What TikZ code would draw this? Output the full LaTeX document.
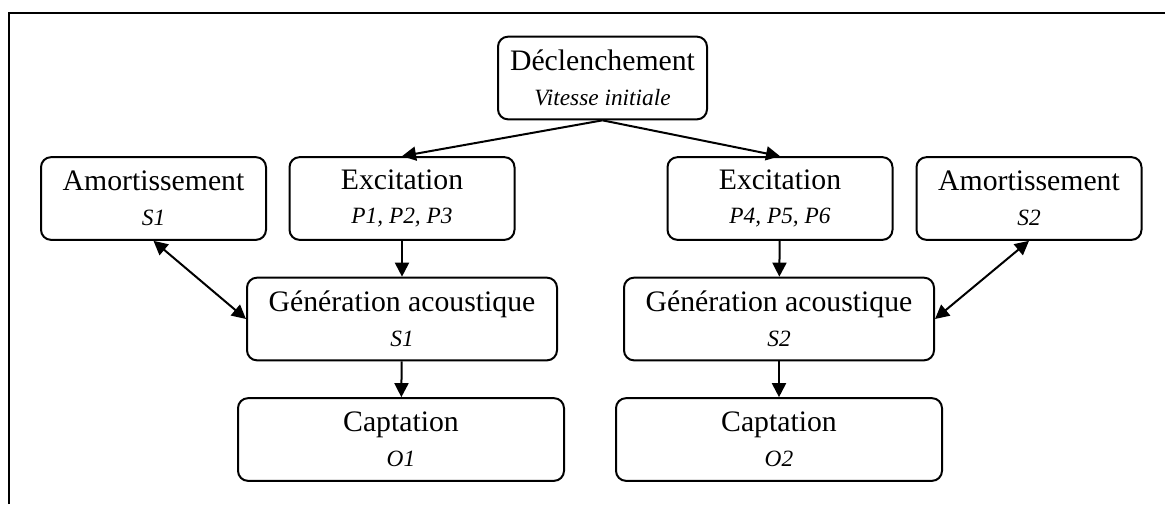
\documentclass[tikz,border=0pt]{standalone}
\usepackage{fontspec}
\setmainfont{Liberation Serif}
\usetikzlibrary{arrows.meta, positioning}

\newcommand{\subtxt}[1]{{\fontsize{17.5}{20}\selectfont\itshape #1}}

\tikzset{
  block/.style={draw, line width=1.5pt, rounded corners=7.5pt, align=center,
    minimum height=62pt, inner sep=0pt, font=\fontsize{22.3}{26}\selectfont},
  link/.style={line width=1.5pt, -{Triangle[length=10.5pt, width=10.5pt]}},
  twoway/.style={line width=1.5pt, {Triangle[length=10.5pt, width=10.5pt]}-{Triangle[length=10.5pt, width=10.5pt]}}
}

\begin{document}
\begin{tikzpicture}[x=0.75pt, y=-0.75pt]
  \useasboundingbox (0,0) rectangle (1165,504);
  \draw[line width=2pt] (9,504) -- (9,13) -- (1165,13);

  % top
  \node[block, minimum width=156.75pt] (decl) at (602.5,78) {D\'eclenchement\\\subtxt{Vitesse initiale}};

  % row of excitation / damping
  \node[block, minimum width=168.75pt] (amort1) at (153.5,198.5) {Amortissement\\\subtxt{S1}};
  \node[block, minimum width=168.75pt] (exc1) at (402,198.5) {Excitation\\\subtxt{P1, P2, P3}};
  \node[block, minimum width=168.75pt] (exc2) at (780,198.5) {Excitation\\\subtxt{P4, P5, P6}};
  \node[block, minimum width=168.75pt] (amort2) at (1029,198.5) {Amortissement\\\subtxt{S2}};

  % sound generation
  \node[block, minimum width=232.5pt] (gen1) at (402,319) {G\'en\'eration acoustique\\\subtxt{S1}};
  \node[block, minimum width=232.5pt] (gen2) at (779,319) {G\'en\'eration acoustique\\\subtxt{S2}};

  % pickup
  \node[block, minimum width=244.5pt] (capt1) at (401,439.5) {Captation\\\subtxt{O1}};
  \node[block, minimum width=244.5pt] (capt2) at (779,439.5) {Captation\\\subtxt{O2}};

  \draw[link] (decl.south) -- (exc1.north);
  \draw[link] (decl.south) -- (exc2.north);
  \draw[link] (exc1) -- (gen1);
  \draw[link] (exc2) -- (gen2);
  \draw[link] (gen1) -- (capt1);
  \draw[link] (gen2) -- (capt2);
  \draw[twoway] (amort1.south) -- (gen1.west);
  \draw[twoway] (amort2.south) -- (gen2.east);
\end{tikzpicture}
\end{document}
